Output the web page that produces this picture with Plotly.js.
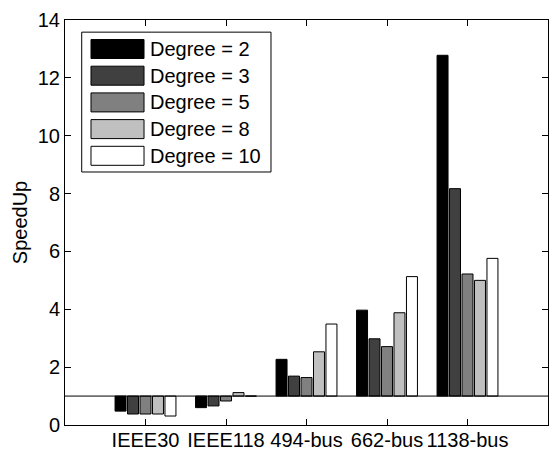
<!DOCTYPE html>
<html>
<head>
<meta charset="utf-8">
<script src="https://cdn.plot.ly/plotly-3.0.1.min.js"></script>
<style>html,body{margin:0;padding:0;background:#fff;}#chart{width:549px;height:450px;}</style>
</head>
<body>
<div id="chart"></div>
<script>
const categories = ["IEEE30", "IEEE118", "494-bus", "662-bus", "1138-bus"];
const seriesNames = ["Degree = 2", "Degree = 3", "Degree = 5", "Degree = 8", "Degree = 10"];
const deg2  = [0.48, 0.60, 2.27, 3.97, 12.78];
const deg3  = [0.38, 0.66, 1.69, 2.98, 8.17];
const deg5  = [0.38, 0.83, 1.64, 2.71, 5.22];
const deg8  = [0.38, 1.12, 2.53, 3.88, 5.00];
const deg10 = [0.31, 1.00, 3.49, 5.13, 5.76];
const baseline = 1;
const yTicks = [0, 2, 4, 6, 8, 10, 12, 14];

const seriesValues = [deg2, deg3, deg5, deg8, deg10];
const colors = ["#000000", "#404040", "#808080", "#c0c0c0", "#ffffff"];
const font = "Liberation Sans, Arial, sans-serif";

const traces = seriesValues.map((vals, i) => ({
  type: "bar",
  name: seriesNames[i],
  x: categories,
  y: vals.map(v => v - baseline),
  base: baseline,
  marker: {color: colors[i], line: {color: "#000", width: 1}},
  showlegend: false,
  hoverinfo: "skip"
}));

// custom legend (MATLAB style)
const shapes = [];
const annotations = [];
const lx0 = 0.0346, lx1 = 0.4265, ly1 = 0.970, ly0 = 0.6247;
shapes.push({type: "rect", xref: "paper", yref: "paper", x0: lx0, x1: lx1, y0: ly0, y1: ly1,
  line: {color: "#000", width: 1}, fillcolor: "#fff", layer: "above"});
const plotTop = 20, plotH = 405;
seriesNames.forEach((name, i) => {
  const cyPx = 49 + i * 26.7;
  const cy = 1 - (cyPx - plotTop) / plotH;
  const h = 9.5 / plotH;
  shapes.push({type: "rect", xref: "paper", yref: "paper", x0: 0.0538, x1: 0.1636,
    y0: cy - h, y1: cy + h, fillcolor: colors[i], line: {color: "#000", width: 1}, layer: "above"});
  annotations.push({xref: "paper", yref: "paper", x: 0.1747, y: cy, xanchor: "left", yanchor: "middle",
    text: name, showarrow: false, borderpad: 0, font: {family: font, size: 20, color: "#000"}});
});
// baseline line at y = 1
shapes.push({type: "line", xref: "paper", yref: "y", x0: 0, x1: 1, y0: baseline, y1: baseline,
  line: {color: "#000", width: 1}, layer: "above"});

const layout = {
  width: 549, height: 450,
  margin: {l: 65, r: 1, t: 20, b: 25},
  paper_bgcolor: "#fff", plot_bgcolor: "#fff",
  barmode: "group", bargap: 0.225, bargroupgap: 0.12,
  font: {family: font, size: 20, color: "#000"},
  xaxis: {
    type: "category", range: [-1, 5],
    showline: true, linecolor: "#000", linewidth: 1, mirror: "ticks",
    ticks: "inside", ticklen: 6, tickcolor: "#000", showgrid: false, zeroline: false,
    ticklabelstandoff: -3,
    tickfont: {family: font, size: 20, color: "#000"}
  },
  yaxis: {
    range: [0, 14], tickvals: yTicks, ticktext: yTicks.map(String),
    showline: true, linecolor: "#000", linewidth: 1, mirror: "ticks",
    ticks: "inside", ticklen: 6, tickcolor: "#000", showgrid: false, zeroline: false,
    tickfont: {family: font, size: 20, color: "#000"},
    title: {text: "SpeedUp", font: {family: font, size: 20, color: "#000"}, standoff: 4}
  },
  shapes: shapes,
  annotations: annotations
};

Plotly.newPlot("chart", traces, layout, {displayModeBar: false, staticPlot: true});
</script>
</body>
</html>
